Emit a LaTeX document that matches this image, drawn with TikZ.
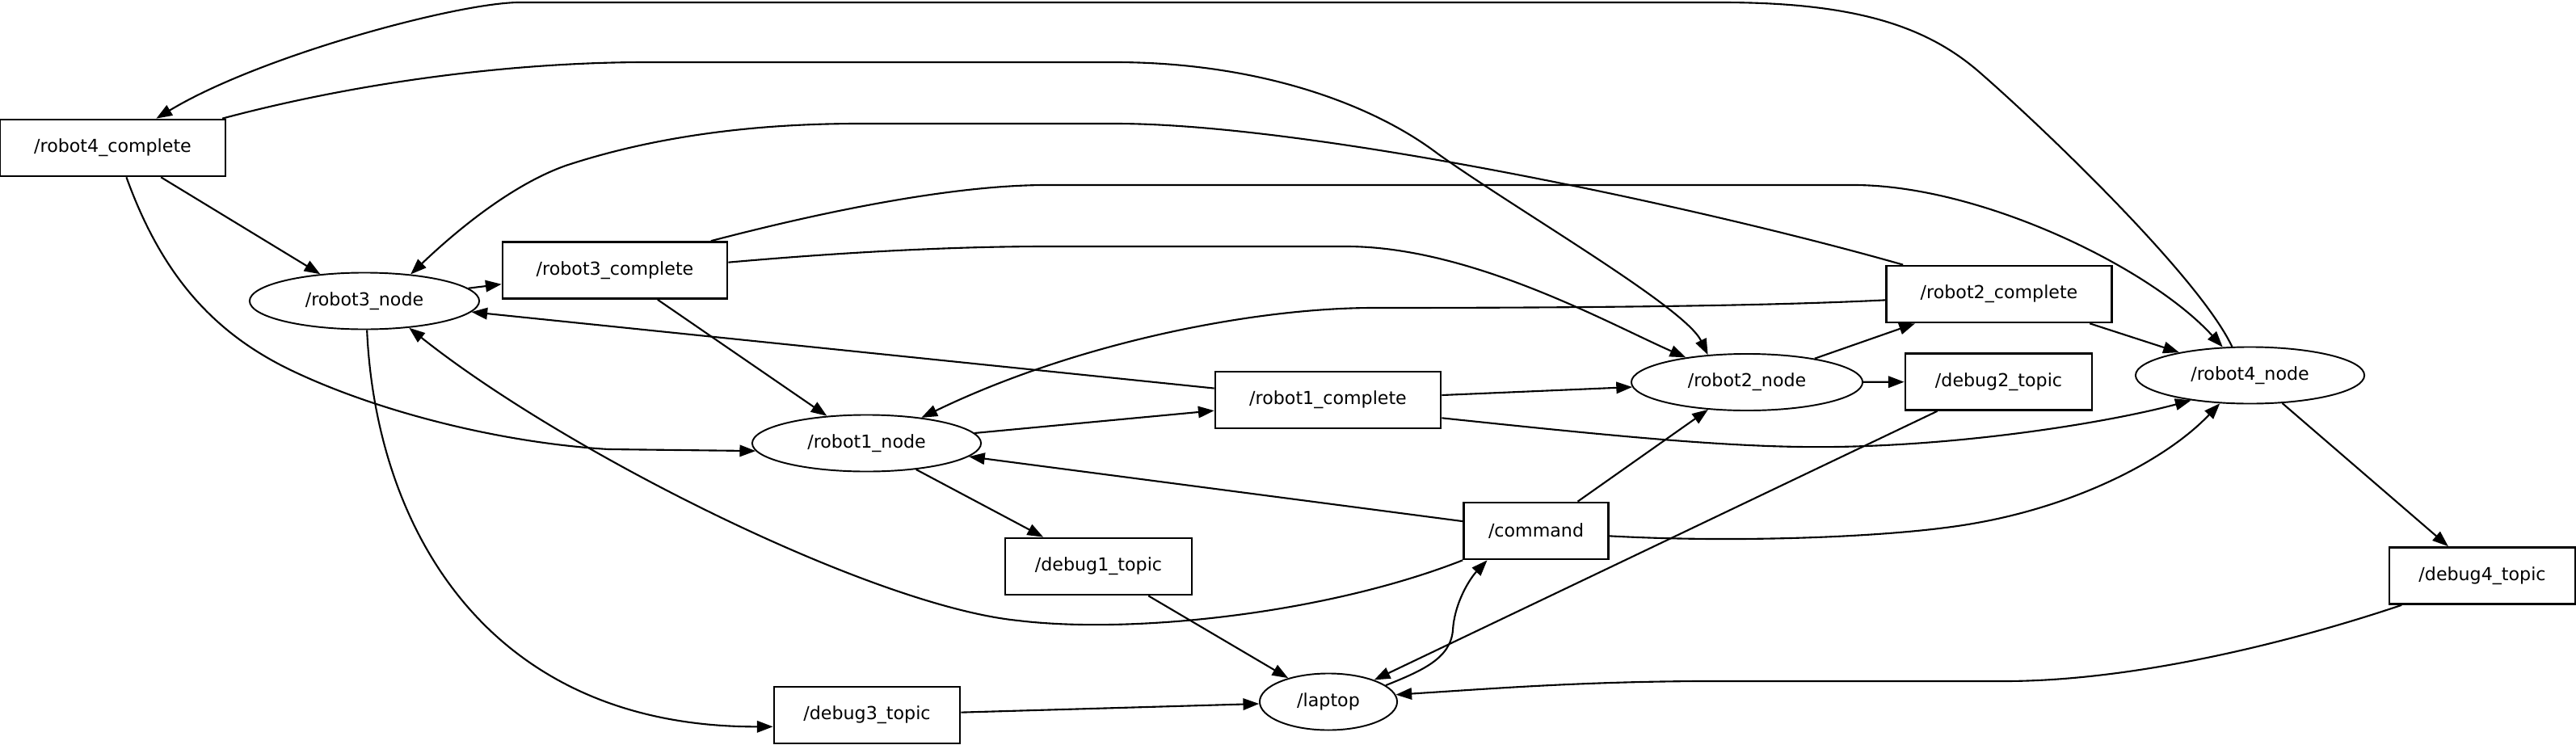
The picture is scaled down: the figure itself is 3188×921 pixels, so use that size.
\documentclass[tikz,border=0pt]{standalone}
\usepackage{fontspec}
\setmainfont{DejaVu Sans}
\usetikzlibrary{shapes.geometric,arrows.meta}
\begin{document}
\begin{tikzpicture}[x=0.01cm,y=-0.01cm,
  every node/.style={font=\fontsize{6.3}{7.5}\selectfont, inner sep=0pt},
  topic/.style={draw, rectangle, line width=0.75pt, minimum height=0.70cm},
  rosnode/.style={draw, ellipse, line width=0.55pt, minimum height=0.70cm},
  arr/.style={line width=0.6pt, -{Triangle[length=5.6pt,width=4.1pt]}}]
\useasboundingbox (0,0) rectangle (3188,921);

\node[topic, minimum width=2.79cm] (r4c) at (139.5,183) {/robot4\_complete};
\node[rosnode, minimum width=2.84cm] (r3) at (451,372.5) {/robot3\_node};
\node[topic, minimum width=2.78cm] (r3c) at (761,334.5) {/robot3\_complete};
\node[rosnode, minimum width=2.83cm] (r1) at (1072.5,548.5) {/robot1\_node};
\node[topic, minimum width=2.79cm] (r1c) at (1643.5,495) {/robot1\_complete};
\node[topic, minimum width=2.31cm] (d1) at (1359.5,701) {/debug1\_topic};
\node[topic, minimum width=1.79cm] (cmd) at (1901,657) {/command};
\node[rosnode, minimum width=1.70cm] (lap) at (1644,868.5) {/laptop};
\node[topic, minimum width=2.30cm] (d3) at (1073,885) {/debug3\_topic};
\node[rosnode, minimum width=2.86cm] (r2) at (2162,473) {/robot2\_node};
\node[topic, minimum width=2.79cm] (r2c) at (2474,364) {/robot2\_complete};
\node[topic, minimum width=2.31cm] (d2) at (2473.5,472.5) {/debug2\_topic};
\node[rosnode, minimum width=2.83cm] (r4) at (2784.5,464.5) {/robot4\_node};
\node[topic, minimum width=2.30cm] (d4) at (3072,712.5) {/debug4\_topic};

% robot4_node -> robot4_complete
\draw[arr] (r4.122) .. controls (2720,340) and (2520,150) .. (2447,87) .. controls (2380,30) and (2290,3) .. (2130,3) -- (640,3) .. controls (560,5) and (320,70) .. (r4c.34);
% robot3_complete -> robot4_node
\draw[arr] (r3c.17) .. controls (950,280) and (1150,229) .. (1295,229) -- (2294,229) .. controls (2450,229) and (2660,330) .. (r4.134);
% robot4_complete -> robot2_node
\draw[arr] (r4c.15) .. controls (450,100) and (640,77) .. (800,77) -- (1379,77) .. controls (1560,77) and (1700,130) .. (1779,190) .. controls (1880,262) and (2085,380) .. (r2.145);
% robot2_complete -> robot3_node
\draw[arr] (r2c.163) .. controls (2100,255) and (1620,153) .. (1380,153) -- (1063,153) .. controls (920,153) and (800,172) .. (700,205) .. controls (630,230) and (560,290) .. (r3.30);
% robot4_complete -> robot3_node
\draw[arr] (r4c) -- (r3);
% robot4_complete -> robot1_node
\draw[arr] (r4c.-65) .. controls (200,340) and (264,413) .. (364,460) .. controls (470,510) and (620,548) .. (753,556) -- (r1.184);
% robot3_node -> robot3_complete
\draw[arr] (r3) -- (r3c);
% robot1_complete -> robot3_node
\draw[arr] (r1c) -- (r3);
% robot3_complete -> robot1_node
\draw[arr] (r3c) -- (r1);
% robot2_complete -> robot1_node
\draw[arr] (r2c.183) .. controls (2200,378) and (2000,381) .. (1700,381) .. controls (1550,381) and (1330,425) .. (r1.25);
% robot1_node -> robot1_complete, debug1
\draw[arr] (r1) -- (r1c);
\draw[arr] (r1) -- (d1);
% command -> robot1_node
\draw[arr] (cmd) -- (r1);
% command -> robot3_node
\draw[arr] (cmd.south west) .. controls (1640,760) and (1400,785) .. (1260,768) .. controls (1080,750) and (700,560) .. (r3.-31);
% robot3_node -> debug3_topic
\draw[arr] (r3.-85) .. controls (465,650) and (600,900) .. (d3.-173);
% debug topics -> laptop
\draw[arr] (d3) -- (lap);
\draw[arr] (d1) -- (lap);
\draw[arr] (d2) -- (lap);
\draw[arr] (d4.-160) .. controls (2850,790) and (2650,843) .. (2480,843) -- (2100,843) .. controls (1950,844) and (1850,852) .. (lap.6);
% laptop -> command
\draw[arr] (lap.16) .. controls (1760,830) and (1795,815) .. (1798,780) .. controls (1800,745) and (1820,715) .. (cmd.-149);
% command -> robot2_node, robot4_node
\draw[arr] (cmd) -- (r2);
\draw[arr] (cmd.-4) .. controls (2150,672) and (2350,665) .. (2447,647) .. controls (2570,625) and (2680,570) .. (r4.-137);
% robot1_complete -> robot4_node, robot2_node
\draw[arr] (r1c.-9) .. controls (2000,540) and (2150,555) .. (2273,553) .. controls (2450,550) and (2620,520) .. (r4.-157);
\draw[arr] (r1c) -- (r2);
% robot2_node -> robot2_complete, debug2
\draw[arr] (r2) -- (r2c);
\draw[arr] (r2) -- (d2);
% robot2_complete -> robot4_node
\draw[arr] (r2c) -- (r4);
% robot4_node -> debug4_topic
\draw[arr] (r4) -- (d4);
% robot3_complete -> robot2_node
\draw[arr] (r3c.4) .. controls (1000,316) and (1150,305) .. (1295,305) -- (1666,305) .. controls (1820,305) and (1990,400) .. (r2.158);
\end{tikzpicture}
\end{document}
